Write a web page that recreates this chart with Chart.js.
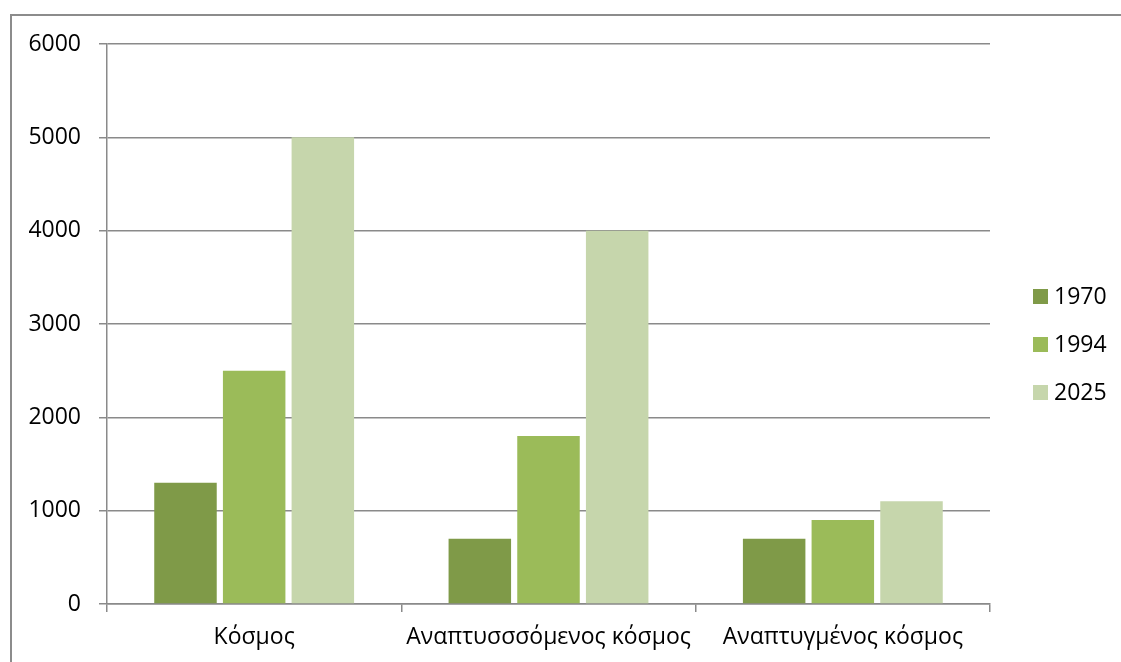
<!DOCTYPE html>
<html>
<head>
<meta charset="utf-8">
<script src="https://cdn.jsdelivr.net/npm/chart.js@4/dist/chart.umd.min.js"></script>
<style>
    html, body { margin: 0; padding: 0; background: #fff; }
    #wrap { position: relative; width: 1121px; height: 662px; overflow: hidden; }
    #frame { position: absolute; left: 10px; top: 14px; width: 1200px; height: 700px; border: 2px solid #8c8c8c; box-sizing: border-box; }
    canvas { position: absolute; left: 0; top: 0; }
</style>
</head>
<body>
<div id="wrap">
    <div id="frame"></div>
    <canvas id="chart" width="1121" height="662"></canvas>
</div>
<script>
const categories = ['Κόσμος', 'Αναπτυσσσόμενος κόσμος', 'Αναπτυγμένος κόσμος'];
const seriesNames = ['1970', '1994', '2025'];
const values1970 = [1300, 700, 700];
const values1994 = [2500, 1800, 900];
const values2025 = [5000, 4000, 1100];
const colors = ['#7f9a48', '#9bbb59', '#c6d6ac'];

const FONT = '"Open Sans", "Noto Sans", sans-serif';
const FONT_SIZE = 23;

// legend drawn on the canvas, to the right of the plot
const sideLegend = {
    id: 'sideLegend',
    afterDraw(chart) {
        const ctx = chart.ctx;
        ctx.save();
        ctx.font = FONT_SIZE + 'px ' + FONT;
        ctx.textBaseline = 'middle';
        chart.data.datasets.forEach((ds, i) => {
            const y = 296 + i * 48;
            ctx.fillStyle = ds.backgroundColor;
            ctx.fillRect(1033, y - 7, 15, 15);
            ctx.fillStyle = '#000';
            ctx.fillText(ds.label, 1054, y + 1);
        });
        ctx.restore();
    }
};

const data = {
    labels: categories,
    datasets: [
        { label: seriesNames[0], data: values1970, backgroundColor: colors[0] },
        { label: seriesNames[1], data: values1994, backgroundColor: colors[1] },
        { label: seriesNames[2], data: values2025, backgroundColor: colors[2] }
    ]
};

new Chart(document.getElementById('chart'), {
    type: 'bar',
    data: data,
    plugins: [sideLegend],
    options: {
        responsive: false,
        animation: false,
        layout: { padding: { left: 0, top: 44, right: 131, bottom: 0 } },
        datasets: { bar: { barPercentage: 0.91, categoryPercentage: 0.70 } },
        plugins: {
            legend: { display: false },
            tooltip: { enabled: false }
        },
        scales: {
            x: {
                afterFit(scale) { scale.height = 58; },
                grid: { display: true, drawOnChartArea: false, drawTicks: true, tickLength: 8, color: '#8a8a8a', lineWidth: 1.5, offset: true },
                border: { display: true, color: '#8a8a8a', width: 1.5 },
                ticks: { color: '#000', font: { family: FONT, size: FONT_SIZE }, padding: 12, maxRotation: 0 }
            },
            y: {
                min: 0,
                max: 6000,
                afterFit(scale) { scale.width = 107; },
                grid: { color: '#8a8a8a', lineWidth: 1.5, tickLength: 8 },
                border: { display: true, color: '#8a8a8a', width: 1.5 },
                ticks: {
                    stepSize: 1000,
                    color: '#000',
                    font: { family: FONT, size: FONT_SIZE },
                    padding: 18,
                    callback: v => String(v)
                }
            }
        }
    }
});
</script>
</body>
</html>
